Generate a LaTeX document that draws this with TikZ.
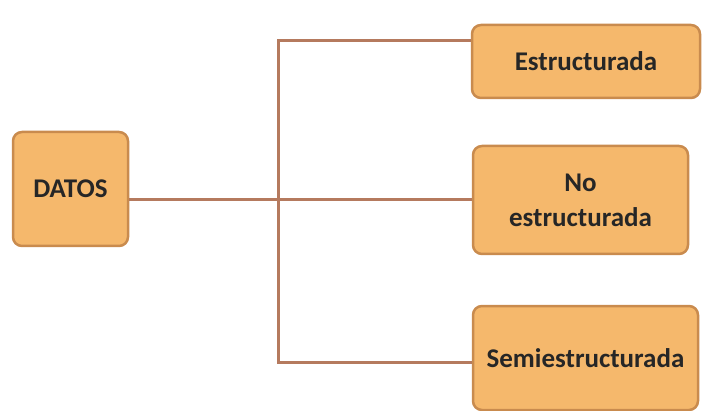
\documentclass[tikz,border=0pt]{standalone}
\usepackage{fontspec}
\setmainfont{Carlito}
\usepackage{tikz}
\usetikzlibrary{positioning,calc}

\definecolor{boxfill}{HTML}{F5B86C}
\definecolor{boxline}{HTML}{C98B4E}
\definecolor{linkcol}{HTML}{B57A5E}

\tikzset{
  tipo/.style={draw=boxline, fill=boxfill, line width=2.5pt, rounded corners=9pt,
    align=center, inner sep=4pt, font=\fontsize{27}{35}\selectfont\bfseries, text=black!85},
  enlace/.style={draw=linkcol, line width=3pt}
}

\begin{document}
\begin{tikzpicture}[x=1pt,y=-1pt]
\useasboundingbox (0,0) rectangle (703,411);

% Root
\node[tipo, minimum width=115pt, minimum height=114pt] (datos) at (70.5,189) {DATOS};

% Kinds of data
\node[tipo, minimum width=228pt, minimum height=73pt] (estr) at (586,61.5) {Estructurada};
\node[tipo, minimum width=215pt, minimum height=108pt] (noestr) at (580.5,200) {No\\estructurada};
\node[tipo, minimum width=225pt, minimum height=104pt] (semi) at (585.5,358) {Semiestructurada};

% Trunk
\coordinate (arriba) at (278,41);
\coordinate (abajo) at (278,362);

\draw[enlace] (estr.west |- arriba) -- (arriba) -- (abajo) -- (semi.west |- abajo);
\draw[enlace] (datos.east |- noestr.west) -- (noestr.west);

\end{tikzpicture}
\end{document}
